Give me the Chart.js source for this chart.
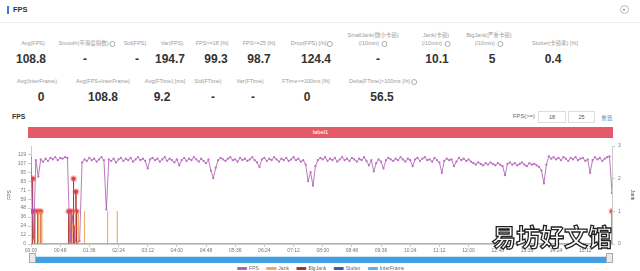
<!DOCTYPE html>
<html><head><meta charset="utf-8">
<script src="https://cdn.jsdelivr.net/npm/chart.js@4.4.0/dist/chart.umd.min.js"></script>
<style>
body{margin:0;width:640px;height:271px;overflow:hidden;background:#fff;font-family:"Liberation Sans","Noto Sans CJK SC",sans-serif;position:relative}
.a{position:absolute}
.hsep{left:0;top:22px;width:640px;height:1px;background:#efefef}
.s{position:absolute;transform:translateX(-50%);text-align:center;white-space:nowrap}
.l{font-size:5.5px;color:#9a9a9a;line-height:8px}
.v{font-weight:bold;font-size:12px;color:#333;line-height:14px}
.q{display:inline-block;width:4px;height:4px;border:0.7px solid #aaa;border-radius:50%;vertical-align:middle;margin-left:1px}
.inp{position:absolute;top:111px;height:10px;border:1px solid #ddd;font-size:5.5px;color:#555;text-align:center;line-height:10px}
</style></head><body>
<div class="a" style="left:7px;top:6px;width:1.5px;height:8px;background:#4a72d4"></div>
<div class="a" style="left:13px;top:5px;font-weight:bold;font-size:7.5px;color:#333">FPS</div>
<div class="a" style="left:620px;top:5px;width:9px;height:9px;border:1px solid #bbb;border-radius:50%;box-sizing:border-box"></div>
<div class="a" style="left:623px;top:9px;width:0;height:0;border-left:1.6px solid transparent;border-right:1.6px solid transparent;border-top:2px solid #666"></div>
<div class="a hsep"></div>

<div class="s l" style="left:33px;top:39px">Avg(FPS)</div>
<div class="s v" style="left:31px;top:52px">108.8</div>
<div class="s l" style="left:87px;top:39px">Smooth(平滑度指数)<span class="q"></span></div>
<div class="s v" style="left:85px;top:52px">-</div>
<div class="s l" style="left:135px;top:39px">Std(FPS)</div>
<div class="s v" style="left:137px;top:52px">-</div>
<div class="s l" style="left:172px;top:39px">Var(FPS)</div>
<div class="s v" style="left:170px;top:52px">194.7</div>
<div class="s l" style="left:212px;top:39px">FPS&gt;=18 [%]</div>
<div class="s v" style="left:216px;top:52px">99.3</div>
<div class="s l" style="left:259px;top:39px">FPS&gt;=25 [%]</div>
<div class="s v" style="left:259px;top:52px">98.7</div>
<div class="s l" style="left:312px;top:39px">Drop(FPS) [/h]<span class="q"></span></div>
<div class="s v" style="left:316px;top:52px">124.4</div>
<div class="s l" style="left:373px;top:31px">SmallJank(微小卡顿)<br>(/10min) <span class="q"></span></div>
<div class="s v" style="left:378px;top:52px">-</div>
<div class="s l" style="left:436px;top:31px">Jank(卡顿)<br>(/10min) <span class="q"></span></div>
<div class="s v" style="left:437px;top:52px">10.1</div>
<div class="s l" style="left:489px;top:31px">BigJank(严重卡顿)<br>(/10min) <span class="q"></span></div>
<div class="s v" style="left:492px;top:52px">5</div>
<div class="s l" style="left:555px;top:39px">Stutter(卡顿率) [%]</div>
<div class="s v" style="left:553px;top:52px">0.4</div>

<div class="s l" style="left:37px;top:77px">Avg(InterFrame)</div>
<div class="s v" style="left:41px;top:90px">0</div>
<div class="s l" style="left:103px;top:77px">Avg(FPS+InterFrame)</div>
<div class="s v" style="left:103px;top:90px">108.8</div>
<div class="s l" style="left:165px;top:77px">Avg(FTime) [ms]</div>
<div class="s v" style="left:162px;top:90px">9.2</div>
<div class="s l" style="left:208px;top:77px">Std(FTime)</div>
<div class="s v" style="left:213px;top:90px">-</div>
<div class="s l" style="left:250px;top:77px">Var(FTime)</div>
<div class="s v" style="left:253px;top:90px">-</div>
<div class="s l" style="left:306px;top:77px">FTime&gt;=100ms [%]</div>
<div class="s v" style="left:307px;top:90px">0</div>
<div class="s l" style="left:383px;top:77px">Delta(FTime)&gt;100ms [/h]<span class="q"></span></div>
<div class="s v" style="left:382px;top:90px">56.5</div>

<div class="a" style="left:12px;top:113px;font-weight:bold;font-size:6.8px;color:#333">FPS</div>
<div class="a" style="left:513px;top:113px;font-size:5.8px;color:#666">FPS(&gt;=)</div>
<div class="inp" style="left:538px;width:26px">18</div>
<div class="inp" style="left:568px;width:25px">25</div>
<div class="a" style="left:601px;top:113px;font-size:5.8px;color:#6b8fc9">重置</div>
<div class="a" style="left:28px;top:127px;width:585px;height:11px;background:#e45a68;color:#fff;font-size:5.8px;line-height:11px;text-align:center">label1</div>

<div class="a" style="left:0;top:140px;width:640px;height:141px"><canvas id="c"></canvas></div>

<div class="a" style="left:33px;top:256px;width:577px;height:6px;background:#41a0e2;border-top:1px solid #cfe3f4"></div>
<div class="a" style="left:29px;top:253px;width:7px;height:10px;background:#e9e9e9;border:1px solid #aaa;box-sizing:border-box"></div>
<div class="a" style="left:606px;top:253px;width:7px;height:10px;background:#e9e9e9;border:1px solid #aaa;box-sizing:border-box"></div>

<div class="a" style="left:492px;top:221px;font-family:'Noto Sans CJK SC';font-weight:bold;font-size:24px;line-height:30px;color:#fff;-webkit-text-stroke:1.3px #222;letter-spacing:0px">易坊好文馆</div>

<script>
const xTickLabels = ['00:00','00:48','01:36','02:24','03:12','04:00','04:48','05:36','06:24','07:12','08:00','08:48','09:36','10:24','11:12','12:00','12:48','13:36','14:24','15:12'];
const fpsTickLabels = ['0','12','24','36','48','59','71','83','95','107','119'];
const jankTickLabels = ['0','1','2','3'];
const sampleStepSec = 4;
const xMax = 956;
const fps = [
115,6,112,90,113,110,114,111,115,113,116,112,115,114,116,115,3,38,6,2,
4,109,113,111,115,112,114,110,113,116,112,46,113,111,114,109,113,115,111,114,
112,115,110,113,116,112,114,111,101,113,115,112,114,110,113,116,111,114,112,109,
113,105,112,115,111,114,112,116,113,110,114,111,108,113,98,88,102,112,115,113,
111,114,116,112,113,110,115,112,114,111,113,116,112,109,103,113,115,111,114,112,
116,113,110,114,112,115,111,113,116,112,114,110,112,106,84,96,78,104,112,115,
113,116,111,114,112,115,110,113,116,112,114,111,115,113,110,114,112,116,111,105,
112,97,108,113,110,101,112,115,113,111,114,112,116,113,110,114,112,104,113,115,
111,114,116,112,113,110,115,112,109,95,111,114,112,113,104,110,115,112,114,111,
113,110,108,106,109,107,105,108,106,109,107,105,108,106,104,92,107,109,106,108,
105,107,109,106,104,108,106,107,105,103,98,81,106,117,114,116,113,115,112,116,
114,111,115,113,116,112,114,115,111,113,95,112,116,113,115,111,114,116,117,68
];
const jankTimes = [7,12,15,18,68,73,78,88,126,142,956];
const bigJankTimes = [2,3,6,11,16,62,66,70,71,74,75,956];
const bigJankValues = [1,2,1,1,1,1,1,2,0.5,1.6,1,1];
const stutter = [];
const interFrame = [];

function toSeconds(lbl){const p=lbl.split(':');return (+p[0])*60+(+p[1]);}
function spikes(times, values){
  const pts=[{x:0,y:0}];
  times.forEach((t,i)=>{pts.push({x:t,y:0},{x:t,y:values?values[i]:1},{x:t,y:0});});
  pts.push({x:xMax,y:0});
  return pts;
}
const axisFont = {size:5, family:'Liberation Sans'};
new Chart(document.getElementById('c'), {
  type:'line',
  data:{datasets:[
    {label:'FPS', data:fps.map((v,i)=>({x:i*sampleStepSec,y:v})), yAxisID:'y', borderColor:'#a858ae', backgroundColor:'#a858ae', borderWidth:0.8, pointRadius:1.1, pointBackgroundColor:'#bb6fc1', pointBorderWidth:0, tension:0},
    {label:'Jank', data:spikes(jankTimes), yAxisID:'y1', borderColor:'rgba(240,165,95,0.9)', backgroundColor:'#f0a55f', borderWidth:1.2, pointRadius:0},
    {label:'BigJank', data:spikes(bigJankTimes,bigJankValues), yAxisID:'y1', borderColor:'#b23a3a', backgroundColor:'#8e2a2a', borderWidth:1, pointRadius:c=>(c.raw&&c.raw.y>0)?2.2:0, pointBackgroundColor:'#e0393e', pointBorderColor:'rgba(235,90,100,0.35)', pointBorderWidth:2.5},
    {label:'Stutter', data:stutter, yAxisID:'y1', borderColor:'#3b5ea6', backgroundColor:'#3b5ea6', borderWidth:1, pointRadius:0},
    {label:'InterFrame', data:interFrame, yAxisID:'y1', borderColor:'#5cb6ea', backgroundColor:'#5cb6ea', borderWidth:1, pointRadius:0}
  ]},
  options:{
    responsive:true, maintainAspectRatio:false, animation:false,
    events:[],
    layout:{padding:{top:6,left:7,right:5,bottom:0}},
    plugins:{
      legend:{position:'bottom', labels:{font:axisFont, color:'#666', boxWidth:9, boxHeight:2, padding:8}},
      tooltip:{enabled:false}
    },
    scales:{
      x:{type:'linear', min:0, max:xMax,
        afterBuildTicks:s=>{s.ticks=xTickLabels.map(l=>({value:toSeconds(l)}));},
        ticks:{callback:(v,i)=>xTickLabels[i], font:axisFont, color:'#777', maxRotation:0, autoSkip:false, padding:1},
        grid:{drawOnChartArea:false, tickLength:3, color:'#ccc'}, border:{color:'#ccc'},
        afterFit:s=>{s.height=14;}},
      y:{position:'left', min:0, max:131,
        afterBuildTicks:s=>{s.ticks=fpsTickLabels.map(l=>({value:Number(l)}));},
        ticks:{callback:(v,i)=>fpsTickLabels[i], font:axisFont, color:'#777', padding:2},
        grid:{drawOnChartArea:false, tickLength:3, color:'#ccc'}, border:{color:'#ccc'},
        title:{display:true, text:'FPS', font:axisFont, color:'#555', padding:0},
        afterFit:s=>{s.width=24;}},
      y1:{position:'right', min:0, max:3,
        afterBuildTicks:s=>{s.ticks=jankTickLabels.map(l=>({value:Number(l)}));},
        ticks:{callback:(v,i)=>jankTickLabels[i], font:axisFont, color:'#777', padding:3},
        grid:{drawOnChartArea:false, tickLength:3, color:'#ccc'}, border:{color:'#ccc'},
        title:{display:true, text:'Jank', font:axisFont, color:'#555', padding:0},
        afterFit:s=>{s.width=23;}}
    }
  }
});
</script>
</body></html>
